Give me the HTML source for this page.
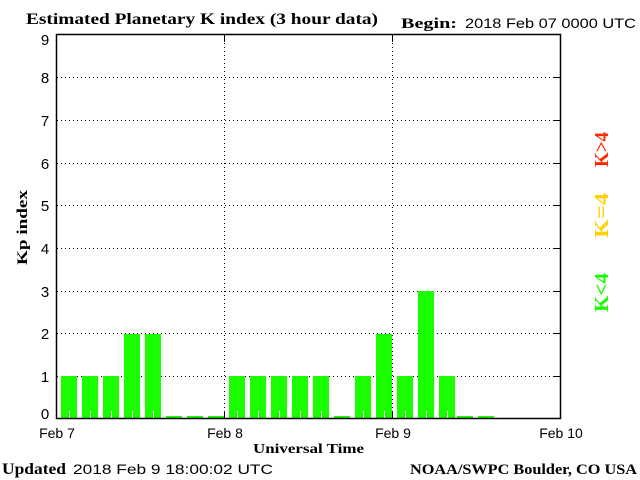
<!DOCTYPE html>
<html><head><style>
html,body{margin:0;padding:0;background:#fff;}
svg{display:block;}
.s{font-family:"Liberation Serif",serif;font-weight:bold;}
.a{font-family:"Liberation Sans",sans-serif;}
</style></head><body>
<svg width="640" height="480" xmlns="http://www.w3.org/2000/svg">
<rect width="640" height="480" fill="#fff"/>
<text x="26" y="24" class="s" font-size="16" textLength="352" lengthAdjust="spacingAndGlyphs">Estimated Planetary K index (3 hour data)</text>
<text x="401" y="28" class="s" font-size="15" textLength="56" lengthAdjust="spacingAndGlyphs">Begin:</text>
<text x="465" y="28" class="a" font-size="14" textLength="171" lengthAdjust="spacingAndGlyphs">2018 Feb 07 0000 UTC</text>
<g stroke="#000" stroke-width="1" stroke-dasharray="1,3">
<line x1="57" y1="77.5" x2="560" y2="77.5"/>
<line x1="57" y1="120.5" x2="560" y2="120.5"/>
<line x1="57" y1="163.5" x2="560" y2="163.5"/>
<line x1="57" y1="205.5" x2="560" y2="205.5"/>
<line x1="57" y1="248.5" x2="560" y2="248.5"/>
<line x1="57" y1="291.5" x2="560" y2="291.5"/>
<line x1="57" y1="333.5" x2="560" y2="333.5"/>
<line x1="57" y1="376.5" x2="560" y2="376.5"/>
<line x1="224.5" y1="35" x2="224.5" y2="419"/>
<line x1="392.5" y1="35" x2="392.5" y2="419"/>
</g>
<g fill="#19ff00">
<rect x="61" y="376" width="16" height="43"/>
<rect x="82" y="376" width="16" height="43"/>
<rect x="103" y="376" width="16" height="43"/>
<rect x="124" y="334" width="16" height="85"/>
<rect x="145" y="334" width="16" height="85"/>
<rect x="166" y="416" width="16" height="3"/>
<rect x="187" y="416" width="16" height="3"/>
<rect x="208" y="416" width="16" height="3"/>
<rect x="229" y="376" width="16" height="43"/>
<rect x="250" y="376" width="16" height="43"/>
<rect x="271" y="376" width="16" height="43"/>
<rect x="292" y="376" width="16" height="43"/>
<rect x="313" y="376" width="16" height="43"/>
<rect x="334" y="416" width="16" height="3"/>
<rect x="355" y="376" width="16" height="43"/>
<rect x="376" y="334" width="16" height="85"/>
<rect x="397" y="376" width="16" height="43"/>
<rect x="418" y="291" width="16" height="128"/>
<rect x="439" y="376" width="16" height="43"/>
<rect x="457" y="416" width="16" height="3"/>
<rect x="478" y="416" width="16" height="3"/>
</g>
<g stroke="#fff" stroke-width="1">
<line x1="69.5" y1="411" x2="69.5" y2="419"/><line x1="90.5" y1="411" x2="90.5" y2="419"/>
<line x1="111.5" y1="411" x2="111.5" y2="419"/><line x1="132.5" y1="411" x2="132.5" y2="419"/>
<line x1="153.5" y1="411" x2="153.5" y2="419"/><line x1="237.5" y1="411" x2="237.5" y2="419"/>
<line x1="258.5" y1="411" x2="258.5" y2="419"/><line x1="279.5" y1="411" x2="279.5" y2="419"/>
<line x1="300.5" y1="411" x2="300.5" y2="419"/><line x1="321.5" y1="411" x2="321.5" y2="419"/>
<line x1="363.5" y1="411" x2="363.5" y2="419"/><line x1="384.5" y1="411" x2="384.5" y2="419"/>
<line x1="405.5" y1="411" x2="405.5" y2="419"/><line x1="426.5" y1="411" x2="426.5" y2="419"/>
<line x1="447.5" y1="411" x2="447.5" y2="419"/>
</g>
<rect x="56.5" y="34.5" width="504" height="384" fill="none" stroke="#000" stroke-width="1.5"/>
<g stroke="#000" stroke-width="1">
<line x1="224.5" y1="35" x2="224.5" y2="42"/><line x1="224.5" y1="411" x2="224.5" y2="419"/>
<line x1="392.5" y1="35" x2="392.5" y2="42"/><line x1="392.5" y1="411" x2="392.5" y2="419"/>
<line x1="553" y1="77.5" x2="560" y2="77.5"/><line x1="553" y1="120.5" x2="560" y2="120.5"/>
<line x1="553" y1="163.5" x2="560" y2="163.5"/><line x1="553" y1="205.5" x2="560" y2="205.5"/>
<line x1="553" y1="248.5" x2="560" y2="248.5"/><line x1="553" y1="291.5" x2="560" y2="291.5"/>
<line x1="553" y1="333.5" x2="560" y2="333.5"/><line x1="553" y1="376.5" x2="560" y2="376.5"/>
</g>
<g class="a" font-size="15" text-anchor="middle">
<text x="45" y="45">9</text><text x="45" y="83">8</text><text x="45" y="126">7</text>
<text x="45" y="169">6</text><text x="45" y="211">5</text><text x="45" y="254">4</text>
<text x="45" y="297">3</text><text x="45" y="339">2</text><text x="45" y="382">1</text>
<text x="45" y="419">0</text>
</g>
<g class="a" font-size="14" text-anchor="middle">
<text x="57" y="438">Feb 7</text><text x="225" y="438">Feb 8</text>
<text x="393" y="438">Feb 9</text><text x="561" y="438">Feb 10</text>
</g>
<text x="253" y="453" class="s" font-size="14" textLength="111" lengthAdjust="spacingAndGlyphs">Universal Time</text>
<text transform="translate(27,265) rotate(-90)" class="s" font-size="15" textLength="75" lengthAdjust="spacingAndGlyphs">Kp index</text>
<text transform="translate(608,167) rotate(-90)" class="s" font-size="20" textLength="35" lengthAdjust="spacingAndGlyphs" fill="#ff2a00">K&gt;4</text>
<text transform="translate(608,238) rotate(-90)" class="s" font-size="20" textLength="45" lengthAdjust="spacingAndGlyphs" fill="#ffd200">K=4</text>
<text transform="translate(608,312) rotate(-90)" class="s" font-size="20" textLength="39" lengthAdjust="spacingAndGlyphs" fill="#19ff00">K&lt;4</text>
<text x="2" y="474" class="s" font-size="16" textLength="64" lengthAdjust="spacingAndGlyphs">Updated</text>
<text x="73" y="474" class="a" font-size="14" textLength="200" lengthAdjust="spacingAndGlyphs">2018 Feb  9 18:00:02 UTC</text>
<text x="410" y="474" class="s" font-size="15" textLength="227" lengthAdjust="spacingAndGlyphs">NOAA/SWPC Boulder, CO USA</text>
</svg>
</body></html>
